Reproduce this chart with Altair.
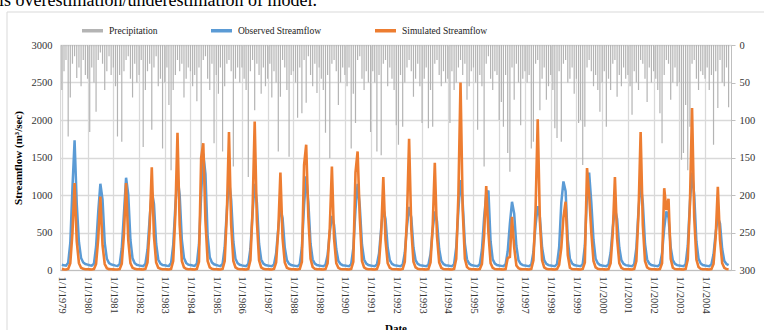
import altair as alt
import pandas as pd

TOP_TEXT = "is overestimation/underestimation of model."
YEARS = list(range(1979, 2005))
SERIES = ["Precipitation", "Observed Streamflow", "Simulated Streamflow"]
COLORS = ["#b4b4b4", "#5b9bd5", "#ed7d31"]

# monthly precipitation (mm), Jan..Dec per year
PRECIP = [
    60, 35, 20, 122, 70, 25, 15, 44, 30, 55, 20, 40,      # 1979
    45, 116, 30, 50, 89, 20, 10, 25, 60, 35, 15, 40,      # 1980
    30, 55, 122, 40, 129, 35, 20, 15, 45, 70, 25, 50,     # 1981
    40, 20, 136, 60, 35, 25, 113, 30, 15, 55, 45, 138,    # 1982
    50, 30, 80, 167, 60, 40, 20, 35, 25, 70, 45, 30,      # 1983
    35, 55, 40, 75, 30, 158, 20, 15, 45, 60, 25, 131,     # 1984
    40, 65, 30, 142, 55, 25, 20, 35, 162, 45, 30, 50,     # 1985
    30, 45, 60, 176, 35, 20, 87, 25, 40, 65, 30, 55,      # 1986
    45, 25, 70, 35, 50, 142, 69, 20, 30, 60, 149, 40,     # 1987
    35, 50, 97, 30, 91, 20, 77, 15, 40, 55, 25, 64,       # 1988
    30, 45, 60, 117, 40, 151, 25, 20, 35, 80, 50, 30,     # 1989
    40, 55, 30, 138, 65, 104, 20, 15, 45, 60, 35, 50,     # 1990
    116, 35, 50, 142, 40, 147, 25, 20, 55, 30, 45, 60,    # 1991
    107, 133, 40, 109, 50, 30, 20, 35, 69, 45, 25, 55,    # 1992
    104, 45, 30, 111, 60, 109, 25, 20, 40, 55, 35, 50,    # 1993
    45, 104, 35, 60, 50, 30, 20, 40, 25, 73, 55, 35,      # 1994
    30, 50, 113, 40, 55, 162, 25, 15, 45, 60, 35, 40,     # 1995
    100, 76, 109, 40, 144, 169, 30, 73, 25, 50, 107, 45,  # 1996
    35, 50, 40, 138, 129, 25, 20, 87, 45, 30, 73, 55,     # 1997
    40, 60, 111, 124, 35, 129, 25, 20, 50, 45, 30, 65,    # 1998
    45, 104, 100, 160, 109, 30, 20, 35, 55, 40, 60, 89,   # 1999
    50, 35, 109, 45, 60, 25, 20, 69, 40, 55, 30, 45,      # 2000
    40, 55, 93, 35, 50, 60, 20, 25, 45, 76, 30, 50,       # 2001
    35, 45, 60, 91, 131, 40, 20, 25, 73, 50, 30, 55,      # 2002
    50, 153, 144, 80, 167, 109, 25, 20, 45, 60, 35, 40,   # 2003
    45, 30, 60, 40, 133, 35, 84, 20, 50, 55, 30, 83,      # 2004
]

# observed streamflow (m3/sec), Jan..Dec per year
OBSERVED = [
    70, 62, 58, 95, 360, 1100, 1730, 880, 370, 160, 100, 80,   # 1979
    72, 64, 58, 85, 310, 780, 1150, 940, 360, 150, 92, 74,     # 1980
    66, 58, 54, 78, 290, 760, 1230, 1010, 400, 155, 90, 70,    # 1981
    62, 56, 52, 82, 270, 690, 1050, 880, 350, 140, 86, 66,     # 1982
    62, 56, 55, 92, 330, 860, 1250, 1000, 400, 160, 95, 72,    # 1983
    66, 60, 56, 86, 340, 1000, 1550, 1280, 450, 170, 100, 76,  # 1984
    66, 58, 52, 82, 300, 800, 1200, 940, 380, 150, 90, 70,     # 1985
    62, 56, 52, 80, 280, 760, 1150, 900, 350, 140, 86, 66,     # 1986
    60, 55, 50, 72, 220, 560, 820, 690, 300, 130, 82, 66,      # 1987
    60, 55, 50, 80, 300, 860, 1250, 900, 350, 140, 86, 66,     # 1988
    60, 55, 50, 70, 200, 500, 720, 600, 280, 120, 80, 64,      # 1989
    60, 55, 50, 80, 290, 800, 1150, 850, 340, 140, 86, 66,     # 1990
    60, 55, 50, 72, 220, 560, 820, 680, 300, 130, 82, 65,      # 1991
    60, 55, 50, 72, 230, 580, 840, 700, 300, 130, 82, 65,      # 1992
    60, 55, 50, 70, 210, 540, 780, 650, 280, 122, 80, 64,      # 1993
    60, 55, 50, 80, 300, 800, 1200, 900, 350, 140, 86, 66,     # 1994
    60, 55, 50, 76, 270, 700, 1000, 1060, 380, 142, 86, 66,    # 1995
    60, 55, 50, 76, 250, 620, 910, 750, 320, 130, 82, 65,      # 1996
    60, 55, 50, 75, 240, 600, 850, 700, 300, 130, 82, 65,      # 1997
    60, 55, 50, 80, 300, 900, 1180, 1050, 400, 150, 88, 66,    # 1998
    60, 55, 50, 80, 320, 1000, 1300, 900, 400, 150, 90, 66,    # 1999
    60, 55, 50, 75, 230, 570, 820, 680, 300, 130, 82, 65,      # 2000
    60, 55, 50, 80, 290, 800, 1150, 900, 350, 140, 86, 66,     # 2001
    60, 55, 50, 75, 220, 560, 780, 700, 300, 130, 82, 65,      # 2002
    60, 55, 50, 80, 320, 900, 1300, 1000, 380, 150, 86, 66,    # 2003
    60, 55, 50, 75, 210, 500, 700, 620, 280, 120, 80, 65,      # 2004
]

# simulated streamflow (m3/sec), Jan..Dec per year
SIMULATED = [
    12, 8, 6, 15, 90, 500, 1160, 380, 90, 30, 15, 10,     # 1979
    10, 8, 6, 12, 80, 420, 980, 330, 80, 25, 12, 10,      # 1980
    8, 6, 6, 12, 85, 480, 1160, 400, 90, 30, 15, 10,      # 1981
    10, 8, 6, 15, 100, 560, 1370, 450, 100, 30, 15, 10,   # 1982
    10, 8, 6, 15, 120, 750, 1830, 600, 120, 35, 15, 10,   # 1983
    10, 8, 6, 15, 110, 1500, 1690, 650, 120, 35, 15, 10,  # 1984
    10, 8, 6, 15, 120, 760, 1840, 600, 120, 35, 15, 10,   # 1985
    10, 8, 6, 15, 130, 800, 1980, 650, 130, 35, 15, 10,   # 1986
    10, 8, 6, 15, 100, 530, 1300, 420, 100, 30, 15, 10,   # 1987
    10, 8, 6, 15, 110, 1400, 1670, 700, 150, 40, 15, 10,  # 1988
    10, 8, 6, 12, 90, 560, 1380, 420, 90, 30, 12, 10,     # 1989
    10, 8, 6, 15, 110, 1300, 1580, 700, 120, 35, 15, 10,  # 1990
    10, 8, 6, 12, 90, 500, 1240, 400, 90, 30, 12, 10,     # 1991
    10, 8, 6, 15, 110, 700, 1750, 550, 110, 35, 15, 10,   # 1992
    10, 8, 6, 12, 100, 580, 1430, 450, 100, 30, 12, 10,   # 1993
    10, 8, 6, 15, 150, 1000, 2500, 800, 150, 40, 15, 10,  # 1994
    10, 8, 6, 12, 80, 460, 1120, 500, 90, 30, 12, 10,     # 1995
    10, 8, 6, 12, 160, 175, 710, 300, 60, 25, 12, 10,     # 1996
    10, 8, 6, 15, 130, 820, 2010, 650, 130, 35, 15, 10,   # 1997
    10, 8, 6, 12, 70, 300, 700, 910, 200, 30, 12, 10,     # 1998
    10, 8, 6, 15, 100, 1360, 1000, 500, 120, 35, 15, 10,  # 1999
    10, 8, 6, 12, 90, 500, 1240, 420, 90, 30, 12, 10,     # 2000
    10, 8, 6, 15, 120, 760, 1840, 600, 120, 35, 15, 10,   # 2001
    10, 8, 6, 12, 90, 1090, 800, 950, 150, 30, 12, 10,    # 2002
    10, 8, 6, 15, 140, 880, 2160, 700, 140, 40, 15, 10,   # 2003
    10, 8, 6, 12, 80, 450, 1110, 400, 90, 30, 12, 10,     # 2004
]

FLOW_TICKS = [0, 500, 1000, 1500, 2000, 2500, 3000]
PRECIP_TICKS = [0, 50, 100, 150, 200, 250, 300]

dates = pd.date_range("1979-01-01", periods=len(OBSERVED), freq="MS").strftime("%Y-%m-%d")
df_p = pd.DataFrame({"date": dates, "value": PRECIP, "series": SERIES[0]})
df_o = pd.DataFrame({"date": dates, "value": OBSERVED, "series": SERIES[1]})
df_s = pd.DataFrame({"date": dates, "value": SIMULATED, "series": SERIES[2]})

FONT = "Liberation Serif"
GRID = "#d9d9d9"

color_scale = alt.Scale(domain=SERIES, range=COLORS)
legend = alt.Legend(
    orient="none", legendX=20, legendY=-27, direction="horizontal", columns=3,
    title=None, symbolType="stroke", symbolStrokeWidth=3.5, symbolSize=440,
    labelFont=FONT, labelFontSize=9.5, labelColor="#222", columnPadding=46,
    symbolOffset=0, labelOffset=4,
)
color_enc = alt.Color("series:N", scale=color_scale, legend=legend)

x_axis = alt.Axis(
    values=[alt.DateTime(year=y, month=1, date=1, utc=True) for y in YEARS],
    labelExpr="utcFormat(datum.value, '%-m/%-d/%Y')",
    labelAngle=90, labelAlign="left",
    labelBaseline="middle", labelOverlap=False, labelPadding=6,
    ticks=False, grid=True, gridColor=GRID, gridWidth=1.3,
    domain=True, domainColor="#bfbfbf", title="Date", titlePadding=9,
)
x_enc = alt.X(
    "date:T",
    scale=alt.Scale(
        type="utc",
        domain=[alt.DateTime(year=1978, month=12, date=6, utc=True),
                alt.DateTime(year=2005, month=1, date=4, utc=True)],
    ),
    axis=x_axis,
)

precip = alt.Chart(df_p).mark_rule(strokeWidth=1.2).encode(
    x=x_enc,
    y=alt.Y("value:Q", scale=alt.Scale(domain=[0, 300], reverse=True, nice=False),
            axis=alt.Axis(orient="right", values=PRECIP_TICKS, format="d", grid=False,
                          domain=True, domainColor="#bfbfbf", ticks=True,
                          tickColor="#bfbfbf", tickSize=4, labelPadding=4, title=None)),
    y2=alt.datum(0),
    color=color_enc,
)

flow_y = alt.Y("value:Q", scale=alt.Scale(domain=[0, 3000], nice=False),
               axis=alt.Axis(orient="left", values=FLOW_TICKS, format="d", grid=True,
                             gridColor=GRID, gridWidth=1.3, domain=False, ticks=False,
                             labelPadding=8, title="Streamflow (m³/sec)", titlePadding=8))

obs = alt.Chart(df_o).mark_line(strokeWidth=2.5).encode(x=x_enc, y=flow_y, color=color_enc)
sim = alt.Chart(df_s).mark_line(strokeWidth=2.6).encode(x=x_enc, y=flow_y, color=color_enc)

lines = alt.layer(obs, sim)

top_text = alt.Chart(pd.DataFrame({"t": [TOP_TEXT]})).mark_text(
    font=FONT, fontSize=18, align="left", baseline="alphabetic", color="#000"
).encode(x=alt.value(-61), y=alt.value(-39), text="t:N")

frame = alt.Chart(pd.DataFrame({"k": [0]})).mark_rect(
    fillOpacity=0, stroke="#d9d9d9", strokeWidth=1
).encode(x=alt.value(-53), x2=alt.value(720), y=alt.value(-33), y2=alt.value(300))

chart = alt.layer(frame, precip, lines, top_text).resolve_scale(y="independent").properties(
    width=671, height=225,
    autosize=alt.AutoSizeParams(type="none"),
    padding={"left": 60, "top": 45, "right": 33, "bottom": 60},
).configure_view(stroke=GRID, strokeWidth=1).configure_axis(
    labelFont=FONT, labelFontSize=10.5, labelColor="#333",
    titleFont=FONT, titleFontSize=11, titleFontWeight="bold", titleColor="#000",
)

chart.save("out.html", embed_options={"renderer": "svg", "actions": False})
